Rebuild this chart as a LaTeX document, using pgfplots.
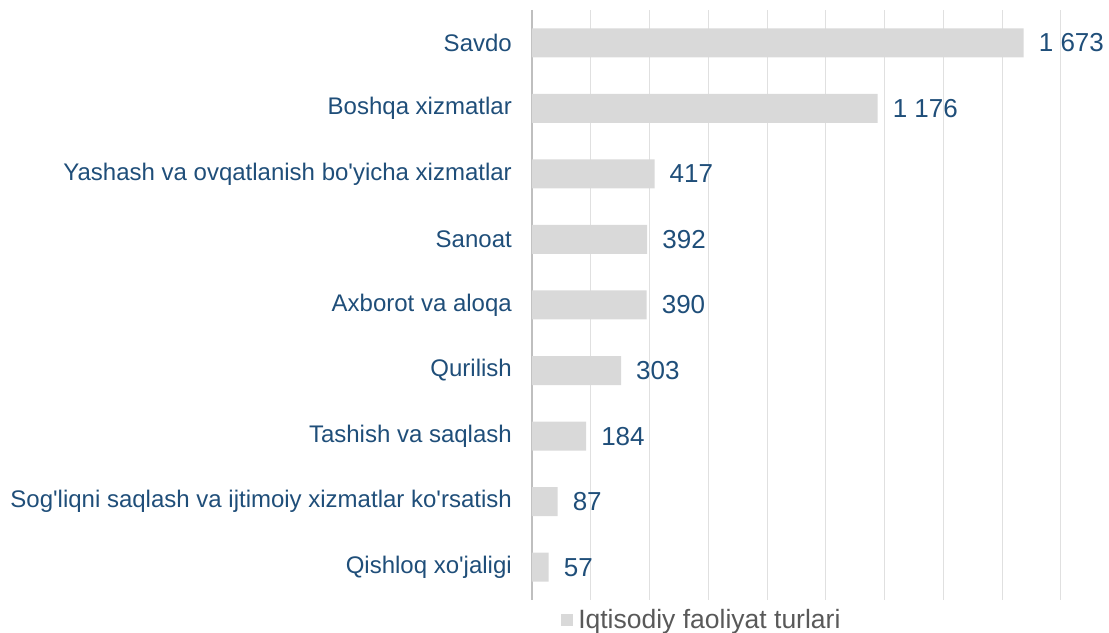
\documentclass[border=0pt]{standalone}
\usepackage{fontspec}
\setmainfont{Liberation Sans}
\usepackage{pgfplots}
\pgfplotsset{compat=1.18}
\definecolor{barc}{HTML}{D9D9D9}
\definecolor{gridc}{HTML}{E0E0E0}
\definecolor{axc}{HTML}{BFBFBF}
\definecolor{lblc}{HTML}{1F4E79}
\definecolor{legc}{HTML}{595959}
\newcommand{\q}{\textquotesingle}
\begin{document}
\begin{tikzpicture}
\begin{axis}[
    name=ax,
    xbar,
    scale only axis,
    width=529bp, height=590bp,
    xmin=0, xmax=1800,
    ymin=-0.5, ymax=8.5,
    y dir=reverse,
    bar width=29bp,
    axis x line*=bottom,
    x axis line style={draw=none},
    axis y line*=left,
    y axis line style={axc, line width=1.5bp},
    xtick={0,200,...,1800},
    xticklabels={},
    xmajorgrids,
    major grid style={gridc, line width=1bp},
    ytick={0,...,8},
    yticklabels={Savdo, Boshqa xizmatlar, Yashash va ovqatlanish bo\q yicha xizmatlar, Sanoat, Axborot va aloqa, Qurilish, Tashish va saqlash, Sog\q liqni saqlash va ijtimoiy xizmatlar ko\q rsatish, Qishloq xo\q jaligi},
    major tick length=0pt,
    yticklabel style={font=\fontsize{24bp}{28bp}\selectfont, text=lblc, inner sep=0pt, xshift=-20bp},
    nodes near coords={\pgfmathprintnumber{\pgfplotspointmeta}},
    every node near coord/.append style={font=\fontsize{26bp}{30bp}\selectfont, text=lblc, anchor=west, inner sep=0pt, xshift=15bp,
        /pgf/number format/1000 sep={\ }, /pgf/number format/assume math mode=true},
    legend style={draw=none, fill=none, at={(axis description cs:0.055,-0.034)}, anchor=west,
        font=\fontsize{26.5bp}{31bp}\selectfont, text=legc, inner sep=0pt,
        /tikz/every odd column/.append style={column sep=3bp}},
    legend image code/.code={\fill[barc] (0bp,-6bp) rectangle (12bp,6bp);},
    clip=false,
]
\addplot[fill=barc, draw=none] coordinates {
    (1673,0) (1176,1) (417,2) (392,3) (390,4) (303,5) (184,6) (87,7) (57,8)
};
\addlegendentry{Iqtisodiy faoliyat turlari}
\end{axis}
\pgfresetboundingbox
\path[use as bounding box] ([xshift=-532bp,yshift=-33bp]ax.south west) rectangle ([xshift=48bp,yshift=10bp]ax.north east);
\end{tikzpicture}
\end{document}
